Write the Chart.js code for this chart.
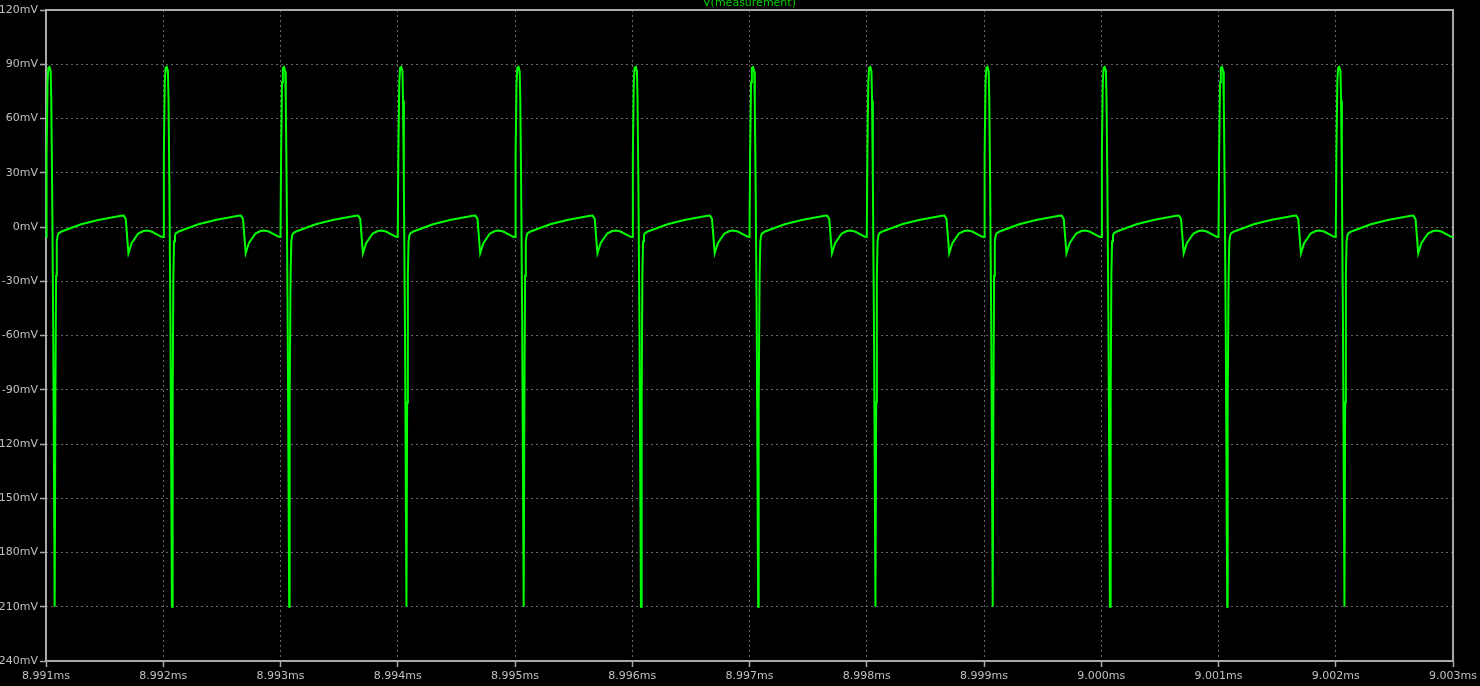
<!DOCTYPE html>
<html>
<head>
<meta charset="utf-8">
<script src="https://cdn.jsdelivr.net/npm/chart.js@4.4.0/dist/chart.umd.min.js"></script>
<style>
  html, body { margin: 0; padding: 0; background: #000; }
  canvas { display: block; }
</style>
</head>
<body>
<canvas id="grafica" width="1480" height="686"></canvas>
<script>
// tick values and labels
var xTicks = [8.991, 8.992, 8.993, 8.994, 8.995, 8.996, 8.997, 8.998, 8.999, 9.000, 9.001, 9.002, 9.003];
var xTickLabels = ["8.991ms", "8.992ms", "8.993ms", "8.994ms", "8.995ms", "8.996ms", "8.997ms", "8.998ms", "8.999ms", "9.000ms", "9.001ms", "9.002ms", "9.003ms"];
var yTicks = [120, 90, 60, 30, 0, -30, -60, -90, -120, -150, -180, -210, -240];
var yTickLabels = ["120mV", "90mV", "60mV", "30mV", "0mV", "-30mV", "-60mV", "-90mV", "-120mV", "-150mV", "-180mV", "-210mV", "-240mV"];

// start of each pulse period (ms)
var periodStarts = [8.991, 8.992, 8.993, 8.994, 8.995, 8.996, 8.997, 8.998, 8.999, 9.000, 9.001, 9.002];
var periodNs = [0, 5, 13, 20, 30, 40, 45, 52, 62, 74, 76, 80, 86, 92, 100, 108, 133, 300, 445, 560, 640, 662, 680, 703, 730, 786, 830, 860, 900, 985];
var periodMv = [-5.5, 40, 80, 88, 88.5, 86, 70, 25, -60, -210, -210, -97, -27, -8, -4.5, -3.5, -2.5, 1.5, 3.9, 5.2, 6.2, 6.3, 4.5, -14.5, -9, -3.6, -2.2, -2, -2.5, -5.4];
var endTime = 9.003;
var endMv = -5.5;

var puntos = [];
periodStarts.forEach(function (t0) {
    for (var j = 0; j < periodNs.length; j++) {
        puntos.push({ x: t0 + periodNs[j] / 1e6, y: periodMv[j] });
    }
});
puntos.push({ x: endTime, y: endMv });

var grisTexto = "#c0c0c0";
var grisMarco = "#a9a9a9";
var fuente = { family: "DejaVu Sans", size: 11 };

// marco del grafico y titulo
var marco = {
    id: "marco",
    beforeDatasetsDraw: function (chart) {
        var a = chart.chartArea, ctx = chart.ctx;
        ctx.save();
        ctx.strokeStyle = grisMarco;
        ctx.lineWidth = 2;
        ctx.strokeRect(a.left, a.top, a.right - a.left, a.bottom - a.top);
        ctx.restore();
    },
    afterDraw: function (chart) {
        var a = chart.chartArea, ctx = chart.ctx;
        ctx.save();
        ctx.fillStyle = "#00d000";
        ctx.font = "11px 'DejaVu Sans'";
        ctx.textAlign = "center";
        ctx.textBaseline = "alphabetic";
        ctx.fillText("V(measurement)", (a.left + a.right) / 2, 6);
        ctx.restore();
    }
};

var ctx = document.getElementById("grafica").getContext("2d");
var grafica = new Chart(ctx, {
    type: "line",
    data: {
        datasets: [{
            label: "V(measurement)",
            data: puntos,
            borderColor: "#00ff00",
            borderWidth: 2,
            pointRadius: 0,
            tension: 0,
            fill: false,
            clip: 4
        }]
    },
    options: {
        responsive: false,
        animation: false,
        layout: { padding: { top: 10, right: 25, left: 0, bottom: 0 } },
        plugins: { legend: { display: false }, tooltip: { enabled: false } },
        scales: {
            x: {
                type: "linear",
                min: 8.991,
                max: 9.003,
                afterBuildTicks: function (scale) {
                    scale.ticks = xTicks.map(function (v) { return { value: v }; });
                },
                afterFit: function (scale) { scale.height = 25; },
                ticks: {
                    color: grisTexto,
                    font: fuente,
                    padding: 3,
                    autoSkip: false,
                    maxRotation: 0,
                    callback: function (v, i) { return xTickLabels[i]; }
                },
                grid: {
                    color: "#666666",
                    lineWidth: 1,
                    tickLength: 6,
                    tickColor: grisMarco,
                    tickWidth: 1.5,
                    tickBorderDash: []
                },
                border: { display: false, dash: [2, 3] }
            },
            y: {
                min: -240,
                max: 120,
                afterBuildTicks: function (scale) {
                    scale.ticks = yTicks.map(function (v) { return { value: v }; });
                },
                afterFit: function (scale) { scale.width = 46; },
                ticks: {
                    color: grisTexto,
                    font: fuente,
                    padding: 2,
                    autoSkip: false,
                    callback: function (v) { return yTickLabels[yTicks.indexOf(v)]; }
                },
                grid: {
                    color: "#666666",
                    lineWidth: 1,
                    tickLength: 6,
                    tickColor: grisMarco,
                    tickWidth: 1.5,
                    tickBorderDash: []
                },
                border: { display: false, dash: [2, 3] }
            }
        }
    },
    plugins: [marco]
});
</script>
</body>
</html>
